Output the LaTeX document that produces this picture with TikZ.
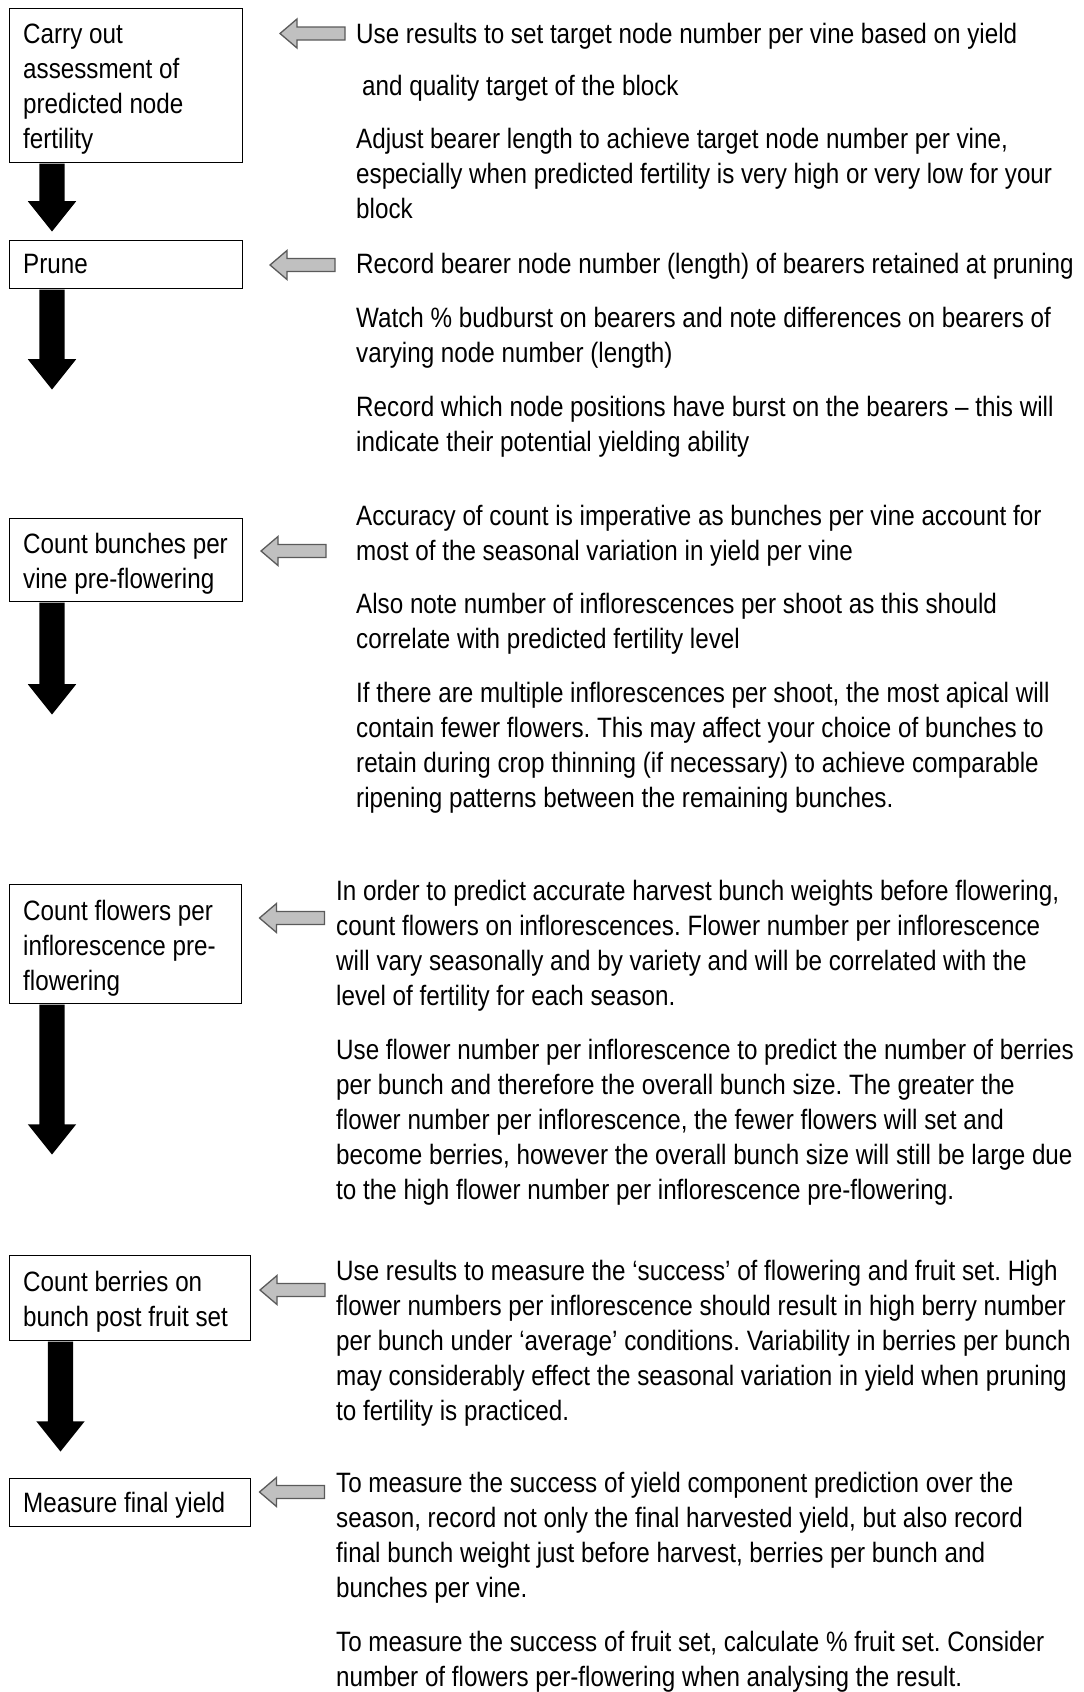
\documentclass[tikz,border=0pt]{standalone}
\usepackage{fontspec}
\setmainfont{Liberation Sans}[FakeStretch=0.865]
\usetikzlibrary{shapes.arrows}
\definecolor{garrfill}{RGB}{192,192,192}
\definecolor{garrline}{RGB}{90,90,90}
\newcommand\greyarrow[3]{%
  \coordinate (#1) at (#2,#3);
  \begin{scope}[shift={(#1)}]
    \draw[garrow] (-32.5,0) -- (-15.5,14.5) -- (-15.5,6.5) -- (32.5,6.5)
      -- (32.5,-6.5) -- (-15.5,-6.5) -- (-15.5,-14.5) -- cycle;
  \end{scope}}
\frenchspacing
\begin{document}
\begin{tikzpicture}[x=1pt,y=1pt,
  box/.style={draw=black,line width=1.3pt,anchor=north west,inner sep=0pt},
  txt/.style={anchor=north west,inner sep=0pt,align=left,font=\fontsize{28}{35}\selectfont\frenchspacing},
  garrow/.style={draw=garrline,fill=garrfill,line width=1.3pt,line join=miter},
  blk/.style={single arrow,fill=black,draw=none,shape border rotate=270,
    minimum width=48pt,inner sep=12.5pt,single arrow head extend=11.5pt,
    single arrow tip angle=77.3,anchor=tail}]
\useasboundingbox (0,0) rectangle (1084,-1692);

% left-hand boxes
\node[box,minimum width=233pt,minimum height=154pt] (b1) at (9,-8) {};
\node[box,minimum width=233pt,minimum height=48pt] (b2) at (9,-240) {};
\node[box,minimum width=233pt,minimum height=83pt] (b3) at (9,-518) {};
\node[box,minimum width=232pt,minimum height=119pt] (b4) at (9,-884) {};
\node[box,minimum width=241pt,minimum height=85pt] (b5) at (9,-1255) {};
\node[box,minimum width=241pt,minimum height=48pt] (b6) at (9,-1478) {};

\node[txt] (b1t) at (23,-18.5) {\strut Carry out\\assessment of\\predicted node\\fertility};
\node[txt] (b2t) at (23,-249) {\strut Prune};
\node[txt] (b3t) at (23,-529) {\strut Count bunches per\\vine pre-flowering};
\node[txt] (b4t) at (23,-896) {\strut Count flowers per\\inflorescence pre-\\flowering};
\node[txt] (b5t) at (23,-1266.5) {\strut Count berries on\\bunch post fruit set};
\node[txt] (b6t) at (23,-1487.5) {\strut Measure final yield};

% black block arrows
\node[blk,minimum height=68pt] (a1) at (b1.south -| 52,0) {};
\node[blk,minimum height=100pt] (a2) at (b2.south -| 52,0) {};
\node[blk,minimum height=112pt] (a3) at (b3.south -| 52,0) {};
\node[blk,minimum height=150pt] (a4) at (b4.south -| 52,0) {};
\node[blk,minimum height=110pt] (a5) at (b5.south -| 60.5,0) {};

% grey arrows
\greyarrow{g1}{312.5}{-33.5}
\greyarrow{g2}{302.5}{-265}
\greyarrow{g3}{293.5}{-551}
\greyarrow{g4}{292}{-918}
\greyarrow{g5}{292.5}{-1290}
\greyarrow{g6}{292}{-1492}

% right-hand texts
\node[txt] (p1) at (356,-19) {\strut Use results to set target node number per vine based on yield};
\node[txt] (p2) at (362,-71) {\strut and quality target of the block};
\node[txt] (p3) at (356,-124) {\strut Adjust bearer length to achieve target node number per vine,\\especially when predicted fertility is very high or very low for your\\block};
\node[txt] (p4) at (356,-249) {\strut Record bearer node number (length) of bearers retained at pruning};
\node[txt] (p5) at (356,-303) {\strut Watch \% budburst on bearers and note differences on bearers of\\varying node number (length)};
\node[txt] (p6) at (356,-392) {\strut Record which node positions have burst on the bearers – this will\\indicate their potential yielding ability};
\node[txt] (p7) at (356,-501) {\strut Accuracy of count is imperative as bunches per vine account for\\most of the seasonal variation in yield per vine};
\node[txt] (p8) at (356,-589) {\strut Also note number of inflorescences per shoot as this should\\correlate with predicted fertility level};
\node[txt] (p9) at (356,-678) {\strut If there are multiple inflorescences per shoot, the most apical will\\contain fewer flowers. This may affect your choice of bunches to\\retain during crop thinning (if necessary) to achieve comparable\\ripening patterns between the remaining bunches.};
\node[txt] (p10) at (336,-876) {\strut In order to predict accurate harvest bunch weights before flowering,\\count flowers on inflorescences. Flower number per inflorescence\\will vary seasonally and by variety and will be correlated with the\\level of fertility for each season.};
\node[txt] (p11) at (336,-1035) {\strut Use flower number per inflorescence to predict the number of berries\\per bunch and therefore the overall bunch size. The greater the\\flower number per inflorescence, the fewer flowers will set and\\become berries, however the overall bunch size will still be large due\\to the high flower number per inflorescence pre-flowering.};
\node[txt] (p12) at (336,-1256) {\strut Use results to measure the ‘success’ of flowering and fruit set. High\\flower numbers per inflorescence should result in high berry number\\per bunch under ‘average’ conditions. Variability in berries per bunch\\may considerably effect the seasonal variation in yield when pruning\\to fertility is practiced.};
\node[txt] (p13) at (336,-1468) {\strut To measure the success of yield component prediction over the\\season, record not only the final harvested yield, but also record\\final bunch weight just before harvest, berries per bunch and\\bunches per vine.};
\node[txt] (p14) at (336,-1627) {\strut To measure the success of fruit set, calculate \% fruit set. Consider\\number of flowers per-flowering when analysing the result.};
\end{tikzpicture}
\end{document}
